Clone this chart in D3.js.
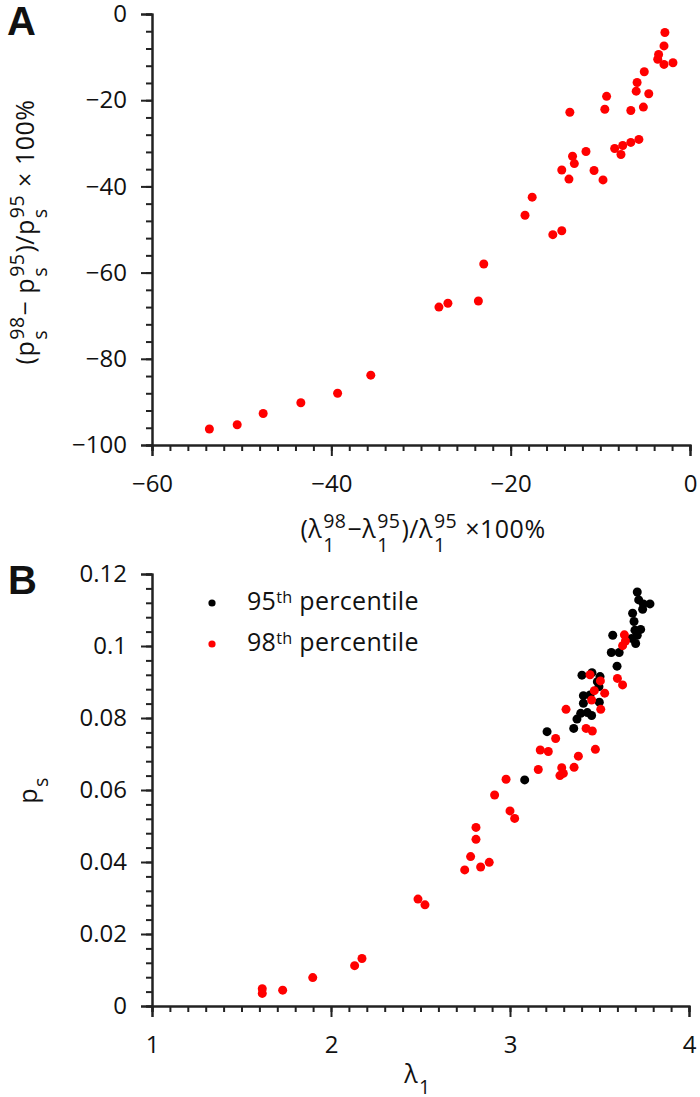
<!DOCTYPE html>
<html><head><meta charset="utf-8">
<script src="https://cdn.jsdelivr.net/npm/d3@7"></script>
<style>
html,body{margin:0;padding:0;background:#fff;}
svg text{font-family:"Open Sans",sans-serif;fill:#111;white-space:pre;}
</style></head>
<body><svg id="c" width="700" height="1097"></svg>
<script>
// ---- Panel A data ----
const aX = [-2.8,-2.9,-3.5,-3.6,-2.9,-1.9,-5.1,-5.9,-6.0,-4.6,-9.3,-9.5,-6.6,-5.2,-13.4,-5.7,-6.6,-7.5,-8.4,-7.7,-11.6,-13.1,-12.9,-14.3,-10.7,-13.5,-9.7,-17.6,-18.4,-14.3,-15.3,-23.0,-23.6,-27.0,-28.0,-35.6,-39.3,-43.4,-47.6,-50.5,-53.6];
const aY = [-4.3,-7.4,-9.4,-10.5,-11.7,-11.3,-13.4,-15.9,-17.9,-18.5,-19.1,-22.1,-22.4,-21.6,-22.8,-29.1,-29.8,-30.5,-31.2,-32.6,-31.9,-33.0,-34.7,-36.2,-36.3,-38.3,-38.5,-42.5,-46.7,-50.3,-51.2,-58.0,-66.6,-67.1,-68.0,-83.8,-88.0,-90.2,-92.7,-95.3,-96.3];
const aXTicks = [-60,-40,-20,0];
const aYTicks = [-100,-80,-60,-40,-20,0];

// ---- Panel B data ----
const b95X = [3.711,3.719,3.745,3.782,3.741,3.685,3.693,3.730,3.698,3.711,3.680,3.702,3.574,3.566,3.610,3.598,3.402,3.458,3.503,3.488,3.497,3.410,3.447,3.410,3.499,3.395,3.432,3.456,3.374,3.356,3.207,3.082];
const b95Y = [0.1150,0.1128,0.1117,0.1117,0.1102,0.1091,0.1068,0.1046,0.1044,0.1030,0.1021,0.1007,0.1030,0.0982,0.0982,0.0944,0.0919,0.0926,0.0915,0.0901,0.0887,0.0862,0.0864,0.0841,0.0844,0.0813,0.0815,0.0807,0.0797,0.0771,0.0762,0.0628];
const b98X = [3.639,3.645,3.629,3.600,3.629,3.447,3.505,3.471,3.529,3.456,3.507,3.313,3.425,3.460,3.255,3.169,3.214,3.477,3.382,3.158,3.289,3.358,3.279,3.298,2.978,2.914,3.000,3.026,2.810,2.810,2.780,2.747,2.836,2.884,2.486,2.525,2.173,2.132,1.898,1.730,1.616,1.616];
const b98Y = [0.1031,0.1014,0.1001,0.0910,0.0892,0.0920,0.0903,0.0876,0.0869,0.0850,0.0824,0.0824,0.0771,0.0764,0.0743,0.0711,0.0707,0.0713,0.0694,0.0657,0.0662,0.0663,0.0640,0.0646,0.0630,0.0586,0.0542,0.0521,0.0496,0.0463,0.0415,0.0378,0.0386,0.0399,0.0297,0.0281,0.0132,0.0112,0.0079,0.0044,0.0048,0.0035];
const bXTicks = [1,2,3,4];
const bYTicks = [0,0.02,0.04,0.06,0.08,0.1,0.12];
const legendLabels = [["95","th"," percentile"],["98","th"," percentile"]];

const svg = d3.select("#c");
const FS = 24;
const TFS = 25;

function rich(parent, parts, size, subOff){
  const g = parent.append("g").style("letter-spacing","0.5px");
  let x = 0;
  const s2 = size*0.78;
  parts.forEach(p=>{
    if(typeof p === "string"){
      const t = g.append("text").attr("x",x).attr("y",0).style("font-size",size+"px").text(p);
      x += t.node().getComputedTextLength();
    } else {
      let w = 0;
      if(p.sup){const t=g.append("text").attr("x",x+1).attr("y",-size*0.42).style("font-size",s2+"px").text(p.sup); w=Math.max(w,t.node().getComputedTextLength());}
      if(p.sub){const t=g.append("text").attr("x",x+1).attr("y",size*subOff).style("font-size",s2+"px").text(p.sub); w=Math.max(w,t.node().getComputedTextLength());}
      x += w + 2;
    }
  });
  g.attr("transform",`translate(${-x/2},0)`);
  return x;
}

function styleAxis(g){
  g.select(".domain").attr("stroke","#222").attr("stroke-width",2);
  g.selectAll(".tick line").attr("stroke","#222").attr("stroke-width",2);
  g.selectAll(".tick text").style("font-size",FS+"px").attr("fill","#111");
}

function panel(xs, ys, xMajor, yMajor, xMinorStep, yMinorStep, fmtX, fmtY){
  const gx = svg.append("g").attr("transform",`translate(0,${ys.range()[0]})`);
  gx.call(d3.axisBottom(xs).tickValues(d3.range(xs.domain()[0], xs.domain()[1]+xMinorStep/2, xMinorStep)).tickSize(6).tickFormat("")).call(styleAxis);
  const gx2 = svg.append("g").attr("transform",`translate(0,${ys.range()[0]})`);
  gx2.call(d3.axisBottom(xs).tickValues(xMajor).tickSize(11).tickPadding(19).tickFormat(fmtX)).call(styleAxis);
  const gy = svg.append("g").attr("transform",`translate(${xs.range()[0]},0)`);
  gy.call(d3.axisLeft(ys).tickValues(d3.range(ys.domain()[0], ys.domain()[1]+yMinorStep/2, yMinorStep)).tickSize(6).tickFormat("")).call(styleAxis);
  const gy2 = svg.append("g").attr("transform",`translate(${xs.range()[0]},0)`);
  gy2.call(d3.axisLeft(ys).tickValues(yMajor).tickSize(11).tickPadding(14).tickFormat(fmtY)).call(styleAxis);
}

// ---- Panel A ----
const xA = d3.scaleLinear().domain([-60,0]).range([152,690]);
const yA = d3.scaleLinear().domain([-100,0]).range([445,14]);
panel(xA, yA, aXTicks, aYTicks, 2, 4, d3.format("d"), d3.format("d"));
svg.append("g").selectAll("circle").data(aX.map((v,i)=>[v,aY[i]])).join("circle")
  .attr("cx",d=>xA(d[0])).attr("cy",d=>yA(d[1])).attr("r",4.5).attr("fill","#ff0000");

svg.append("text").attr("x",7).attr("y",35).style("font-family","'Liberation Sans',Arial,sans-serif")
  .style("font-weight","bold").style("font-size","40px").text("A");

const axA = svg.append("g").attr("transform","translate(423,538)");
rich(axA, ["(λ",{sup:"98",sub:"1"},"−λ",{sup:"95",sub:"1"},")/λ",{sup:"95",sub:"1"}," ×100%"], TFS, 0.55);
const ayA = svg.append("g").attr("transform","translate(34,232) rotate(-90)");
rich(ayA, ["(p",{sup:"98",sub:"s"},"− p",{sup:"95",sub:"s"},")/p",{sup:"95",sub:"s"}," × 100%"], TFS, 0.5);

// ---- Panel B ----
const xB = d3.scaleLinear().domain([1,4]).range([152,689]);
const yB = d3.scaleLinear().domain([0,0.12]).range([1006,574]);
panel(xB, yB, bXTicks, bYTicks, 0.1, 0.004, d3.format("d"), d=> d===0 ? "0" : d3.format("~g")(d));

svg.append("g").selectAll("circle").data(b95X.map((v,i)=>[v,b95Y[i]])).join("circle")
  .attr("cx",d=>xB(d[0])).attr("cy",d=>yB(d[1])).attr("r",4.5).attr("fill","#000");
svg.append("g").selectAll("circle").data(b98X.map((v,i)=>[v,b98Y[i]])).join("circle")
  .attr("cx",d=>xB(d[0])).attr("cy",d=>yB(d[1])).attr("r",4.5).attr("fill","#ff0000");

svg.append("text").attr("x",8).attr("y",594).style("font-family","'Liberation Sans',Arial,sans-serif")
  .style("font-weight","bold").style("font-size","40px").text("B");

// legend
const legColors = ["#000","#ff0000"];
legendLabels.forEach((lab,i)=>{
  const y = 603 + i*41;
  svg.append("circle").attr("cx",212).attr("cy",y).attr("r",3.6).attr("fill",legColors[i]);
  const t = svg.append("text").attr("x",247).attr("y",y+7).style("font-size",TFS+"px").style("letter-spacing","0.3px");
  t.append("tspan").text(lab[0]);
  t.append("tspan").attr("dy","-0.45em").style("font-size",(TFS*0.65)+"px").text(lab[1]);
  t.append("tspan").attr("dy","0.3em").text(lab[2]);
});

const axB = svg.append("g").attr("transform","translate(418,1083)");
rich(axB, ["λ",{sub:"1"}], TFS, 0.42);
const ayB = svg.append("g").attr("transform","translate(37,790) rotate(-90)");
rich(ayB, ["p",{sub:"s"}], TFS, 0.42);
</script></body></html>
